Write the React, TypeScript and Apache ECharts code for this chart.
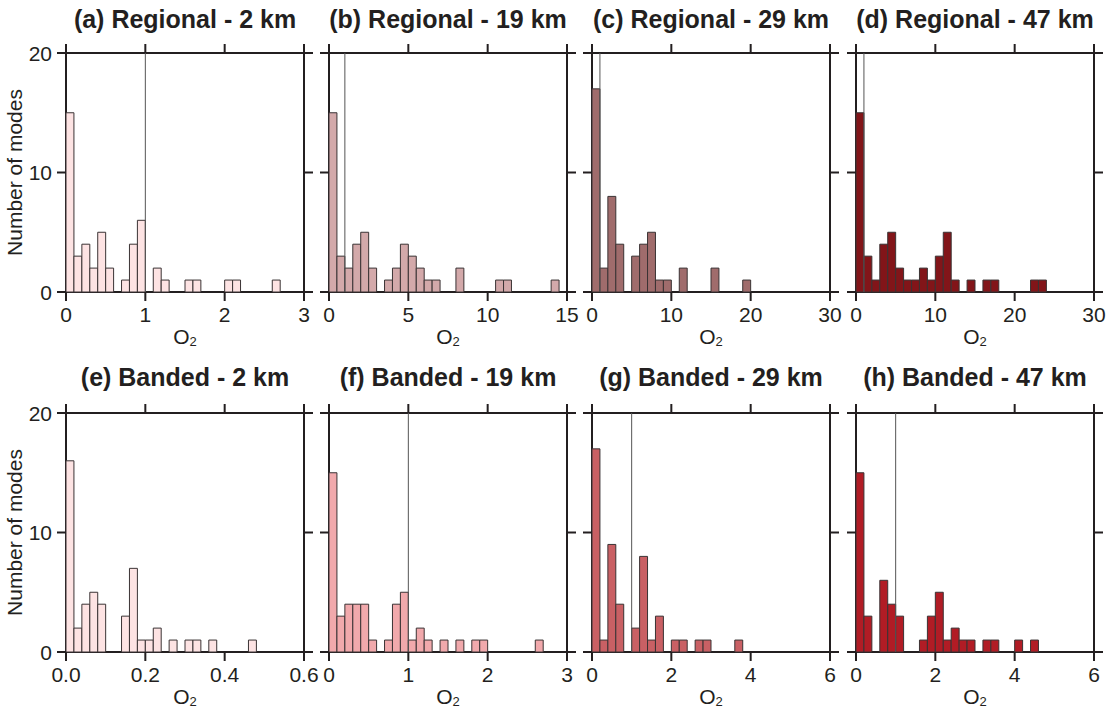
import React, { useEffect, useRef } from "react";
import * as echarts from "echarts";

// ---- Data ----
const PANEL_TITLES = [
  "(a) Regional - 2 km",
  "(b) Regional - 19 km",
  "(c) Regional - 29 km",
  "(d) Regional - 47 km",
  "(e) Banded - 2 km",
  "(f) Banded - 19 km",
  "(g) Banded - 29 km",
  "(h) Banded - 47 km",
];

// x-axis ranges (0..max) and tick steps
const X_MAX = [3, 15, 30, 30, 0.6, 3, 6, 6];
const X_STEP = [1, 5, 10, 10, 0.2, 1, 2, 2];
const X_DECIMALS = [0, 0, 0, 0, 1, 0, 0, 0];
const N_BINS = 30;

// y-axis
const Y_MAX = 20;
const Y_STEP = 10;
const Y_TICKS = [0, 10, 20];

// reference line at O2 = 1
const REF_LINE_X = 1;

// histogram counts, 30 bins per panel
const COUNTS_REGIONAL_2KM = [15, 3, 4, 2, 5, 2, 0, 1, 4, 6, 0, 2, 1, 0, 0, 1, 1, 0, 0, 0, 1, 1, 0, 0, 0, 0, 1, 0, 0, 0];
const COUNTS_REGIONAL_19KM = [15, 3, 2, 4, 5, 2, 0, 1, 2, 4, 3, 2, 1, 1, 0, 0, 2, 0, 0, 0, 0, 1, 1, 0, 0, 0, 0, 0, 1, 0];
const COUNTS_REGIONAL_29KM = [17, 2, 8, 4, 0, 3, 4, 5, 1, 1, 0, 2, 0, 0, 0, 2, 0, 0, 0, 1, 0, 0, 0, 0, 0, 0, 0, 0, 0, 0];
const COUNTS_REGIONAL_47KM = [15, 3, 1, 4, 5, 2, 1, 1, 2, 1, 3, 5, 1, 0, 1, 0, 1, 1, 0, 0, 0, 0, 1, 1, 0, 0, 0, 0, 0, 0];
const COUNTS_BANDED_2KM = [16, 2, 4, 5, 4, 0, 0, 3, 7, 1, 1, 2, 0, 1, 0, 1, 1, 0, 1, 0, 0, 0, 0, 1, 0, 0, 0, 0, 0, 0];
const COUNTS_BANDED_19KM = [15, 3, 4, 4, 4, 1, 0, 1, 4, 5, 1, 2, 1, 0, 1, 0, 1, 0, 1, 1, 0, 0, 0, 0, 0, 0, 1, 0, 0, 0];
const COUNTS_BANDED_29KM = [17, 1, 9, 4, 0, 2, 8, 1, 3, 0, 1, 1, 0, 1, 1, 0, 0, 0, 1, 0, 0, 0, 0, 0, 0, 0, 0, 0, 0, 0];
const COUNTS_BANDED_47KM = [15, 3, 0, 6, 4, 3, 0, 0, 1, 3, 5, 1, 2, 1, 1, 0, 1, 1, 0, 0, 1, 0, 1, 0, 0, 0, 0, 0, 0, 0];

const PANEL_COUNTS = [
  COUNTS_REGIONAL_2KM,
  COUNTS_REGIONAL_19KM,
  COUNTS_REGIONAL_29KM,
  COUNTS_REGIONAL_47KM,
  COUNTS_BANDED_2KM,
  COUNTS_BANDED_19KM,
  COUNTS_BANDED_29KM,
  COUNTS_BANDED_47KM,
];

const PANEL_COLORS = [
  "#FDE3E3",
  "#D3A9AA",
  "#A06C6C",
  "#821519",
  "#FDE3E3",
  "#F1A9AC",
  "#C96064",
  "#B11C25",
];

// ---- Layout / style ----
const FONT = "'Liberation Sans', Arial, Helvetica, sans-serif";
const INK = "#231F20";
const GRID_LEFTS = [66, 329, 592, 856];
const GRID_TOPS = [53, 413];
const GRID_W = 238;
const GRID_H = 239;
const TICK_LEN = 9;
const TICK_W = 2;

export default function App() {
  const ref = useRef<HTMLDivElement>(null);

  useEffect(() => {
    document.body.style.margin = "0";
    const chart = echarts.init(ref.current!, null, { renderer: "svg" });

    const grids: any[] = [];
    const xAxes: any[] = [];
    const yAxes: any[] = [];
    const series: any[] = [];
    const titles: any[] = [];

    for (let i = 0; i < 8; i++) {
      const col = i % 4;
      const row = Math.floor(i / 4);
      const left = GRID_LEFTS[col];
      const top = GRID_TOPS[row];
      const xMax = X_MAX[i];
      grids.push({ left, top, width: GRID_W, height: GRID_H, show: false, containLabel: false });

      titles.push({
        text: PANEL_TITLES[i],
        left: left + GRID_W / 2,
        top: row === 0 ? 6 : 364,
        textAlign: "center",
        padding: 0,
        textStyle: { fontFamily: FONT, fontWeight: "bold", fontSize: 25, color: INK },
      });

      const line = () => ({ show: true, onZero: false, lineStyle: { color: INK, width: 2 } });
      const dec = X_DECIMALS[i];

      // bottom x-axis with labels and name
      xAxes.push({
        type: "value",
        gridIndex: i,
        position: "bottom",
        min: 0,
        max: xMax,
        interval: X_STEP[i],
        axisLine: line(),
        axisTick: { show: false },
        splitLine: { show: false },
        axisLabel: {
          show: true,
          fontFamily: FONT,
          fontSize: 21,
          color: INK,
          margin: 12,
          formatter: (v: number) => v.toFixed(dec),
        },
        name: "{o|O}{s|2}",
        nameLocation: "middle",
        nameGap: 32,
        nameTextStyle: {
          fontFamily: FONT,
          color: INK,
          rich: {
            o: { fontFamily: FONT, fontSize: 21, lineHeight: 21, verticalAlign: "top", color: INK },
            s: { fontFamily: FONT, fontSize: 13, lineHeight: 22, verticalAlign: "bottom", color: INK },
          },
        },
      });
      // top x-axis: frame line only
      xAxes.push({
        type: "value",
        gridIndex: i,
        position: "top",
        min: 0,
        max: xMax,
        interval: X_STEP[i],
        axisLine: line(),
        axisTick: { show: false },
        splitLine: { show: false },
        axisLabel: { show: false },
      });

      const leftCol = col === 0;
      yAxes.push({
        type: "value",
        gridIndex: i,
        position: "left",
        min: 0,
        max: Y_MAX,
        interval: Y_STEP,
        axisLine: line(),
        axisTick: { show: false },
        splitLine: { show: false },
        axisLabel: { show: leftCol, fontFamily: FONT, fontSize: 21, color: INK, margin: 14 },
        name: leftCol ? "Number of modes" : "",
        nameLocation: "middle",
        nameGap: 35,
        nameTextStyle: { fontFamily: FONT, fontSize: 21, color: INK },
      });
      // right y-axis: frame line only
      yAxes.push({
        type: "value",
        gridIndex: i,
        position: "right",
        min: 0,
        max: Y_MAX,
        interval: Y_STEP,
        axisLine: line(),
        axisTick: { show: false },
        splitLine: { show: false },
        axisLabel: { show: false },
      });

      // histogram bars
      const binW = xMax / N_BINS;
      const data: number[][] = [];
      PANEL_COUNTS[i].forEach((c, k) => {
        if (c > 0) data.push([k * binW, (k + 1) * binW, c]);
      });
      const fill = PANEL_COLORS[i];
      series.push({
        type: "custom",
        xAxisIndex: i * 2,
        yAxisIndex: i * 2,
        data,
        encode: { x: [0, 1], y: 2 },
        z: 2,
        renderItem: (params: any, api: any) => {
          const p0 = api.coord([api.value(0), 0]);
          const p1 = api.coord([api.value(1), api.value(2)]);
          return {
            type: "rect",
            shape: { x: p0[0], y: p1[1], width: p1[0] - p0[0], height: p0[1] - p1[1] },
            style: { fill, stroke: "#3A3334", lineWidth: 1 },
          };
        },
      });

      // outward ticks on all four sides, placed through the axis scales
      const xTicks: number[][] = [];
      for (let k = 0; k * X_STEP[i] <= xMax + 1e-9; k++) xTicks.push([k * X_STEP[i]]);
      series.push({
        type: "custom",
        xAxisIndex: i * 2,
        yAxisIndex: i * 2,
        data: xTicks,
        encode: { x: 0 },
        clip: false,
        silent: true,
        z: 4,
        renderItem: (params: any, api: any) => {
          const v = api.value(0);
          const b = api.coord([v, 0]);
          const t = api.coord([v, Y_MAX]);
          const st = { stroke: INK, lineWidth: TICK_W };
          return {
            type: "group",
            children: [
              { type: "line", shape: { x1: b[0], y1: b[1], x2: b[0], y2: b[1] + TICK_LEN }, style: st },
              { type: "line", shape: { x1: t[0], y1: t[1], x2: t[0], y2: t[1] - TICK_LEN }, style: st },
            ],
          };
        },
      });
      series.push({
        type: "custom",
        xAxisIndex: i * 2,
        yAxisIndex: i * 2,
        data: Y_TICKS.map((v) => [v]),
        encode: { y: 0 },
        clip: false,
        silent: true,
        z: 4,
        renderItem: (params: any, api: any) => {
          const v = api.value(0);
          const l = api.coord([0, v]);
          const r = api.coord([xMax, v]);
          const st = { stroke: INK, lineWidth: TICK_W };
          return {
            type: "group",
            children: [
              { type: "line", shape: { x1: l[0] - TICK_LEN, y1: l[1], x2: l[0], y2: l[1] }, style: st },
              { type: "line", shape: { x1: r[0], y1: r[1], x2: r[0] + TICK_LEN, y2: r[1] }, style: st },
            ],
          };
        },
      });

      if (REF_LINE_X <= xMax) {
        series.push({
          type: "line",
          xAxisIndex: i * 2,
          yAxisIndex: i * 2,
          data: [
            [REF_LINE_X, 0],
            [REF_LINE_X, Y_MAX],
          ],
          symbol: "none",
          silent: true,
          z: 3,
          lineStyle: { color: "#555555", width: 1 },
        });
      }
    }

    chart.setOption({
      animation: false,
      backgroundColor: "#FFFFFF",
      title: titles,
      grid: grids,
      xAxis: xAxes,
      yAxis: yAxes,
      series,
    });

    return () => chart.dispose();
  }, []);

  return <div ref={ref} style={{ width: 1115, height: 710 }} />;
}
